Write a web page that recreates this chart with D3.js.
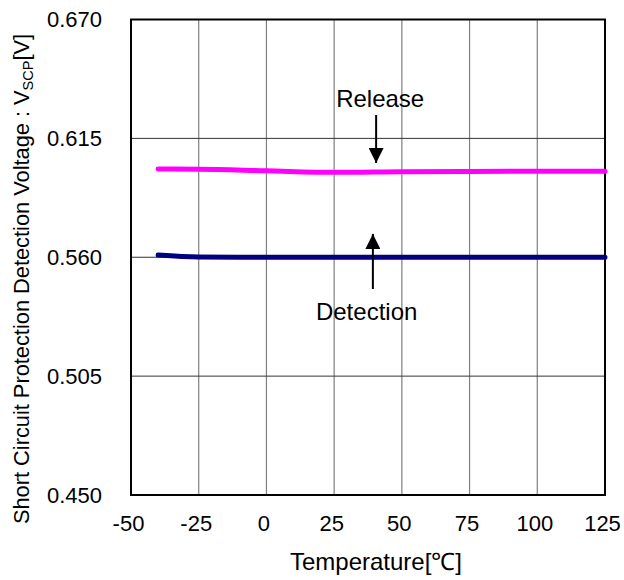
<!DOCTYPE html>
<html>
<head>
<meta charset="utf-8">
<script src="https://cdn.jsdelivr.net/npm/d3@7"></script>
<style>
  html, body { margin: 0; padding: 0; background: #fff; }
  svg text { font-family: "Liberation Sans", Arial, Helvetica, sans-serif; fill: #000; }
</style>
</head>
<body>
<svg id="chart" width="624" height="580"></svg>
<script>
const temperatures = [-40, -25, 0, 25, 50, 75, 100, 125];
const releaseV   = [0.6008, 0.6007, 0.6000, 0.5993, 0.5996, 0.5997, 0.5998, 0.5998];
const detectionV = [0.5610, 0.5601, 0.5600, 0.5600, 0.5600, 0.5600, 0.5600, 0.5600];
const xTicks = [-50, -25, 0, 25, 50, 75, 100, 125];
const yTicks = [0.450, 0.505, 0.560, 0.615, 0.670];

const svg = d3.select("#chart");
const m = { left: 131, top: 19.5, right: 605, bottom: 495 };
const x = d3.scaleLinear().domain([-50, 125]).range([m.left, m.right]);
const y = d3.scaleLinear().domain([0.450, 0.670]).range([m.bottom, m.top]);
const FS = 22;

// grid
const grid = svg.append("g");
grid.selectAll("line.v").data(xTicks.slice(1, -1)).enter().append("line")
  .attr("x1", d => x(d)).attr("x2", d => x(d))
  .attr("y1", m.top).attr("y2", m.bottom)
  .attr("stroke", "#7f7f7f").attr("stroke-width", 1.2);
grid.selectAll("line.h").data(yTicks.slice(1, -1)).enter().append("line")
  .attr("x1", m.left).attr("x2", m.right)
  .attr("y1", d => y(d)).attr("y2", d => y(d))
  .attr("stroke", "#333").attr("stroke-width", 1);

// frame
svg.append("rect")
  .attr("x", m.left).attr("y", m.top)
  .attr("width", m.right - m.left).attr("height", m.bottom - m.top)
  .attr("fill", "none").attr("stroke", "#000").attr("stroke-width", 2);

// axes (labels only)
const xAxis = d3.axisBottom(x).tickValues(xTicks).tickSize(0).tickPadding(0).tickFormat(d => String(d));
const gx = svg.append("g").attr("transform", `translate(-3,${m.bottom + 20})`).call(xAxis);
gx.select(".domain").remove();
gx.selectAll("text").attr("font-size", FS).attr("font-family", null).attr("dy", "0.71em");

const yAxis = d3.axisLeft(y).tickValues(yTicks).tickSize(0).tickPadding(0).tickFormat(d => d.toFixed(3));
const gy = svg.append("g").attr("transform", `translate(${m.left - 29},0)`).call(yAxis);
gy.select(".domain").remove();
gy.selectAll("text").attr("font-size", FS).attr("font-family", null);

// lines
const line = d3.line().x(d => x(d[0])).y(d => y(d[1])).curve(d3.curveMonotoneX);
svg.append("path").datum(temperatures.map((t, i) => [t, releaseV[i]]))
  .attr("d", line).attr("fill", "none").attr("stroke", "#ff00ff")
  .attr("stroke-width", 5).attr("stroke-linecap", "round");
svg.append("path").datum(temperatures.map((t, i) => [t, detectionV[i]]))
  .attr("d", line).attr("fill", "none").attr("stroke", "#000080")
  .attr("stroke-width", 5).attr("stroke-linecap", "round");

// arrows
const defs = svg.append("defs");
defs.append("marker").attr("id", "ah").attr("viewBox", "0 0 10 10")
  .attr("refX", 10).attr("refY", 5).attr("markerWidth", 15).attr("markerHeight", 15)
  .attr("markerUnits", "userSpaceOnUse").attr("orient", "auto")
  .append("path").attr("d", "M0,0 L10,5 L0,10 Z").attr("fill", "#000");

const relX = 40.5, detX = 39.3;
svg.append("line").attr("x1", x(relX)).attr("x2", x(relX))
  .attr("y1", y(0.6258)).attr("y2", y(0.6036))
  .attr("stroke", "#000").attr("stroke-width", 2).attr("marker-end", "url(#ah)");
svg.append("line").attr("x1", x(detX)).attr("x2", x(detX))
  .attr("y1", y(0.5453)).attr("y2", y(0.5708))
  .attr("stroke", "#000").attr("stroke-width", 2).attr("marker-end", "url(#ah)");

const AFS = 24;
svg.append("text").attr("x", x(42)).attr("y", 107).attr("text-anchor", "middle")
  .attr("font-size", AFS).text("Release");
svg.append("text").attr("x", x(37)).attr("y", 320).attr("text-anchor", "middle")
  .attr("font-size", AFS).text("Detection");

// axis titles
svg.append("text").attr("x", 376).attr("y", 570).attr("text-anchor", "middle")
  .attr("font-size", 24).text("Temperature[\u2103]");

const yt = svg.append("text").attr("transform", "translate(29,279) rotate(-90)")
  .attr("text-anchor", "middle").attr("font-size", 21.8);
yt.append("tspan").text("Short Circuit Protection Detection Voltage : V");
yt.append("tspan").attr("font-size", 14.5).attr("dy", 4).text("SCP");
yt.append("tspan").attr("dy", -4).text("[V]");
</script>
</body>
</html>
